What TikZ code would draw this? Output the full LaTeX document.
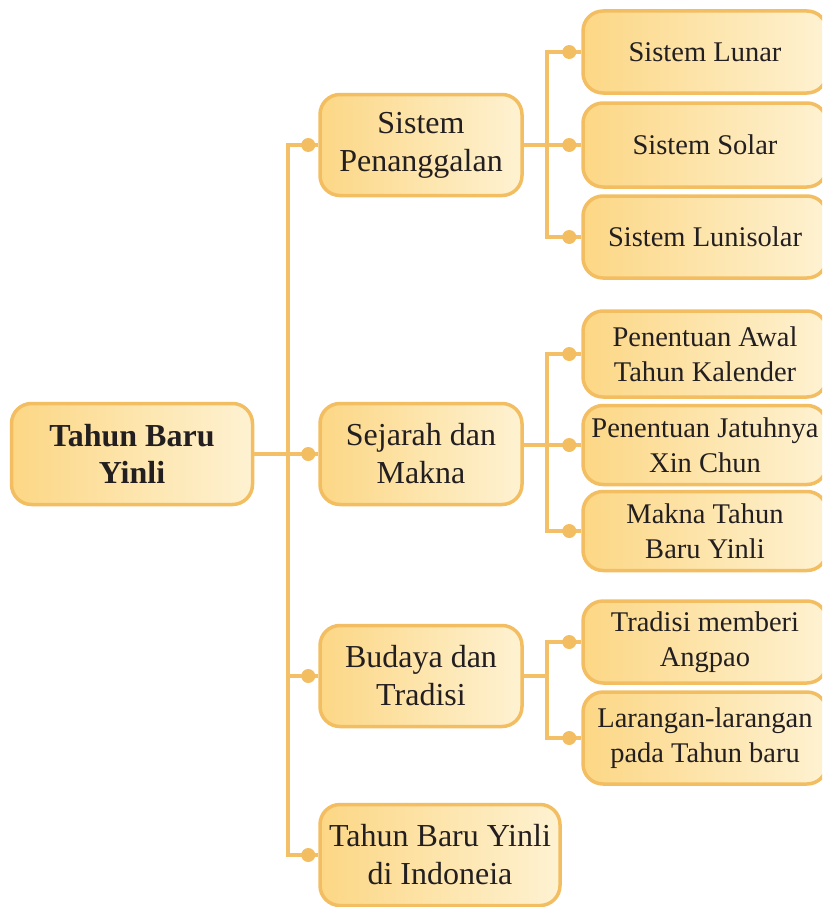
\documentclass[tikz,border=0pt]{standalone}
\usepackage{fontspec}
\setmainfont{Liberation Serif}
\usetikzlibrary{calc}
\definecolor{ink}{HTML}{231F20}
\definecolor{boxborder}{HTML}{F3BE62}
\definecolor{boxleft}{HTML}{FCD785}
\definecolor{boxright}{HTML}{FEF2D2}
\definecolor{linkcolor}{HTML}{F3C068}

\begin{document}
\begin{tikzpicture}[
  x=1pt, y=-1pt,
  font=\fontsize{28.5}{35}\selectfont,
  topic/.style={draw=boxborder, left color=boxleft, right color=boxright, line width=3.5pt,
    rounded corners=20pt, text=ink, align=center, inner sep=0pt, anchor=center},
  root/.style={topic, font=\fontsize{32}{37}\selectfont\bfseries, minimum width=241, minimum height=101},
  theme/.style={topic, font=\fontsize{32}{38}\selectfont, minimum width=202, minimum height=101},
  detail/.style={topic, minimum width=244},
  link/.style={draw=linkcolor, line width=3.5pt},
  dot/.style={fill=boxborder}
]
\path[use as bounding box, clip] (0,0) rectangle (822,907);

\coordinate (trunk) at (288,0);
\coordinate (branch) at (547,0);

\node[root] (root) at (132,454) {Tahun Baru\\Yinli};

\node[theme] (t1) at (421,145) {Sistem\\Penanggalan};
\node[theme] (t2) at (421,454) {Sejarah dan\\Makna};
\node[theme] (t3) at (421,676) {Budaya dan\\Tradisi};
\node[theme, minimum width=240] (t4) at (440,855) {Tahun Baru Yinli\\di Indoneia};

\node[detail, minimum height=82] (s11) at (705,52) {Sistem Lunar};
\node[detail, minimum height=84] (s12) at (705,145) {Sistem Solar};
\node[detail, minimum height=82] (s13) at (705,237) {Sistem Lunisolar};
\node[detail, minimum height=86] (s21) at (705,354) {Penentuan Awal\\Tahun Kalender};
\node[detail, minimum height=79] (s22) at (705,445) {Penentuan Jatuhnya\\Xin Chun};
\node[detail, minimum height=79] (s23) at (705,531) {Makna Tahun\\Baru Yinli};
\node[detail, minimum height=82] (s31) at (705,642) {Tradisi memberi\\Angpao};
\node[detail, minimum height=92] (s32) at (705,738) {Larangan-larangan\\pada Tahun baru};

% The trunk joins the root to every theme.
\draw[link] (root.east) -- (t2.west);
\draw[link] (t1.west) -- (t1.west -| trunk) -- (t4.west -| trunk) -- (t4.west);
\draw[link] (t3.west) -- (t3.west -| trunk);

\draw[link] (t1.east) -- (s12.west);
\draw[link] (s11.west) -- (s11.west -| branch) -- (s13.west -| branch) -- (s13.west);
\draw[link] (s22.west) -- (s22.west -| t2.east);
\draw[link] (s21.west) -- (s21.west -| branch) -- (s23.west -| branch) -- (s23.west);
\draw[link] (t3.east) -- (t3.east -| branch);
\draw[link] (s31.west) -- (s31.west -| branch) -- (s32.west -| branch) -- (s32.west);

\foreach \n in {t1,t2,t3,t4}
  \fill[dot] ($(\n.west)+(-10,0)$) circle (7);
\foreach \n in {s11,s12,s13,s21,s22,s23,s31,s32}
  \fill[dot] ($(\n.west)+(-12,0)$) circle (7);
\end{tikzpicture}
\end{document}
